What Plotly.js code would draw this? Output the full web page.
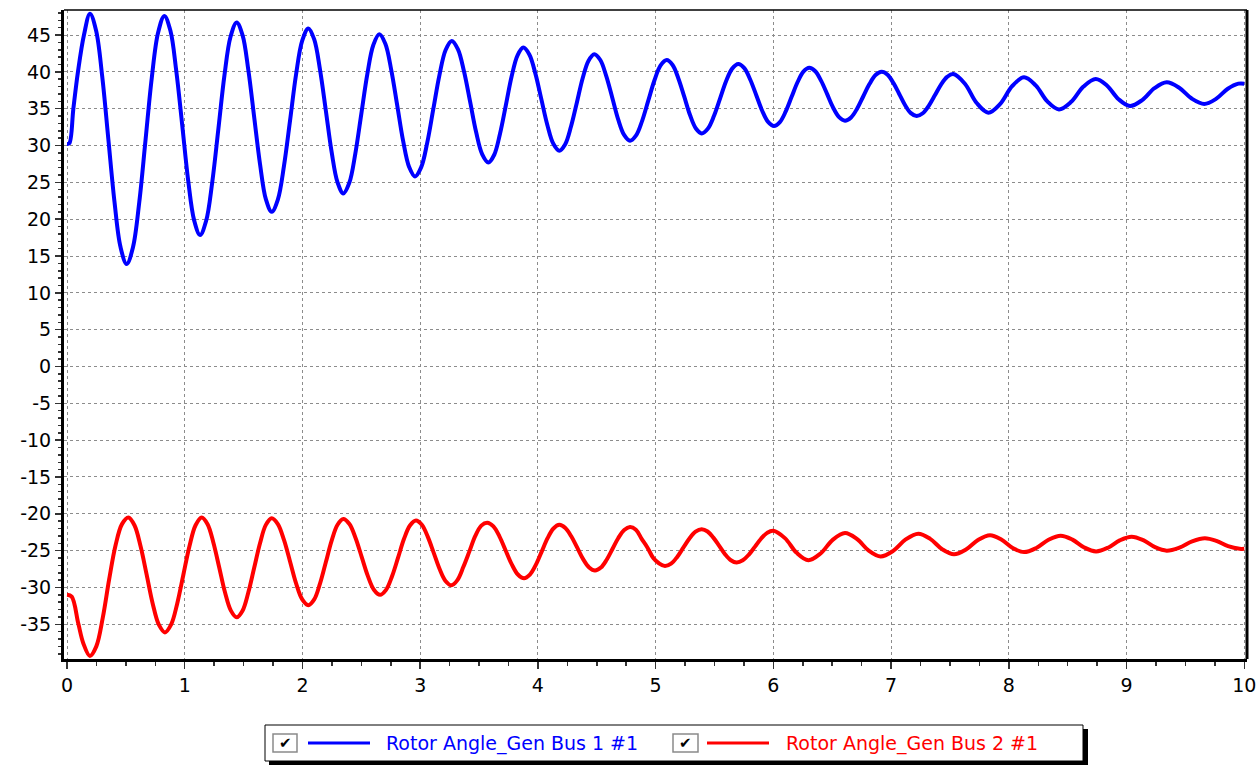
<!DOCTYPE html>
<html>
<head>
<meta charset="utf-8">
<script src="https://cdn.plot.ly/plotly-3.0.1.min.js"></script>
<style>
html,body{margin:0;padding:0;background:#fff;}
#chart{width:1258px;height:766px;}
</style>
</head>
<body>
<div id="chart"></div>
<script>
// ---- data (swing extrema and points along each flank) ----
const seriesNames = ["Rotor Angle_Gen Bus 1 #1", "Rotor Angle_Gen Bus 2 #1"];
const seriesColors = ["#0000ff", "#ff0000"];

const gen1Time = [0, 0.02, 0.054, 0.093, 0.144, 0.195,
  0.247, 0.299, 0.351, 0.403, 0.455, 0.507,
  0.560, 0.614, 0.667, 0.720, 0.774, 0.827,
  0.878, 0.928, 0.979, 1.029, 1.080, 1.13,
  1.182, 1.234, 1.286, 1.337, 1.389, 1.441,
  1.491, 1.540, 1.590, 1.640, 1.689, 1.739,
  1.791, 1.843, 1.895, 1.946, 1.998, 2.05,
  2.100, 2.149, 2.199, 2.248, 2.298, 2.347,
  2.398, 2.449, 2.500, 2.551, 2.602, 2.653,
  2.704, 2.754, 2.805, 2.855, 2.906, 2.956,
  3.008, 3.060, 3.112, 3.164, 3.216, 3.268,
  3.320, 3.372, 3.424, 3.475, 3.527, 3.579,
  3.629, 3.678, 3.728, 3.777, 3.827, 3.876,
  3.927, 3.978, 4.029, 4.080, 4.131, 4.182,
  4.232, 4.281, 4.331, 4.380, 4.430, 4.479,
  4.530, 4.580, 4.631, 4.681, 4.732, 4.782,
  4.834, 4.886, 4.938, 4.990, 5.042, 5.094,
  5.144, 5.193, 5.243, 5.292, 5.342, 5.391,
  5.443, 5.495, 5.547, 5.598, 5.650, 5.702,
  5.753, 5.803, 5.854, 5.904, 5.955, 6.005,
  6.055, 6.105, 6.155, 6.205, 6.255, 6.305,
  6.356, 6.406, 6.457, 6.507, 6.558, 6.608,
  6.660, 6.712, 6.764, 6.816, 6.868, 6.92,
  6.970, 7.019, 7.069, 7.118, 7.168, 7.217,
  7.269, 7.321, 7.373, 7.424, 7.476, 7.528,
  7.627, 7.727, 7.826,   7.927, 8.028, 8.129,   8.228, 8.327, 8.426,   8.530, 8.634, 8.738,
  8.835, 8.932, 9.029,   9.133, 9.237, 9.341,   9.447, 9.553, 9.66,
  9.76, 9.86, 9.95, 10.0];
const gen1Angle = [30.2, 30.3, 35, 40, 45, 47.9,
  45.62, 39.4, 30.9, 22.4, 16.18, 13.9,
  16.16, 22.33, 30.75, 39.18, 45.34, 47.6,
  45.61, 40.16, 32.73, 25.29, 19.84, 17.85,
  19.78, 25.06, 32.28, 39.49, 44.77, 46.7,
  44.98, 40.28, 33.85, 27.43, 22.72, 21.0,
  22.67, 27.23, 33.45, 39.68, 44.23, 45.9,
  44.4, 40.3, 34.7, 29.1, 25.0, 23.5,
  24.95, 28.9, 34.3, 39.7, 43.65, 45.1,
  43.81, 40.28, 35.45, 30.63, 27.09, 25.8,
  27.03, 30.4, 35.0, 39.6, 42.97, 44.2,
  43.09, 40.08, 35.95, 31.83, 28.81, 27.7,
  28.75, 31.6, 35.5, 39.4, 42.25, 43.3,
  42.36, 39.8, 36.3, 32.8, 30.24, 29.3,
  30.18, 32.58, 35.85, 39.13, 41.52, 42.4,
  41.61, 39.46, 36.53, 33.59, 31.44, 30.65,
  31.38, 33.39, 36.13, 38.86, 40.87, 41.6,
  40.93, 39.11, 36.63, 34.14, 32.32, 31.65,
  32.28, 34.0, 36.36, 38.72, 40.44, 41.07,
  40.51, 38.97, 36.86, 34.76, 33.21, 32.65,
  33.18, 34.63, 36.61, 38.59, 40.04, 40.57,
  40.09, 38.77, 36.97, 35.17, 33.85, 33.37,
  33.81, 35.03, 36.69, 38.34, 39.56, 40.0,
  39.6, 38.5, 37.0, 35.5, 34.4, 34.0,
  34.38, 35.43, 36.85, 38.28, 39.32, 39.7,
  38.39, 35.77, 34.46,   35.66, 38.06, 39.26,   38.17, 35.99, 34.9,    35.93, 38.0, 39.03,
  38.12, 36.29, 35.37,   36.17, 37.78, 38.58,   37.85, 36.38, 35.64,
  36.33, 37.71, 38.4, 38.4];

const gen2Time = [0, 0.04, 0.096, 0.139, 0.195,
  0.249, 0.304, 0.358, 0.412, 0.467, 0.521,
  0.573, 0.625, 0.677, 0.728, 0.780, 0.832,
  0.884, 0.936, 0.988, 1.040, 1.092, 1.144,
  1.194, 1.243, 1.293, 1.342, 1.392, 1.441,
  1.491, 1.540, 1.590, 1.640, 1.689, 1.739,
  1.791, 1.843, 1.895, 1.946, 1.998, 2.05,
  2.100, 2.149, 2.199, 2.248, 2.298, 2.347,
  2.399, 2.451, 2.503, 2.555, 2.607, 2.659,
  2.710, 2.761, 2.812, 2.862, 2.913, 2.964,
  3.014, 3.064, 3.115, 3.165, 3.215, 3.265,
  3.316, 3.367, 3.418, 3.468, 3.519, 3.57,
  3.622, 3.674, 3.726, 3.778, 3.830, 3.882,
  3.932, 3.982, 4.032, 4.082, 4.132, 4.182,
  4.233, 4.283, 4.334, 4.384, 4.435, 4.485,
  4.535, 4.584, 4.634, 4.683, 4.733, 4.782,
  4.832, 4.881, 4.931, 4.980, 5.030, 5.079,
  5.131, 5.183, 5.235, 5.287, 5.339, 5.391,
  5.441, 5.490, 5.540, 5.589, 5.639, 5.688,
  5.740, 5.792, 5.844, 5.895, 5.947, 5.999,
  6.098, 6.198, 6.297,   6.401, 6.504, 6.608,   6.709, 6.810, 6.911,   7.018, 7.124, 7.231,
  7.332, 7.433, 7.534,   7.636, 7.738, 7.84,    7.936, 8.033, 8.129,   8.233, 8.337, 8.44,
  8.54, 8.641, 8.741,    8.842, 8.942, 9.043,   9.142, 9.242, 9.341,   9.449, 9.557, 9.665,
  9.763, 9.862, 9.96, 10.0];
const gen2Angle = [-31.0, -31.25, -34.9, -37.6, -39.3,
  -38.0, -34.1, -28.9, -24.3, -21.4, -20.5,
  -21.55, -24.4, -28.3, -32.2, -35.05, -36.1,
  -35.05, -32.2, -28.3, -24.4, -21.55, -20.5,
  -21.41, -23.89, -27.28, -30.66, -33.14, -34.05,
  -33.15, -30.69, -27.33, -23.96, -21.5, -20.6,
  -21.39, -23.55, -26.5, -29.45, -31.61, -32.4,
  -31.62, -29.48, -26.55, -23.63, -21.48, -20.7,
  -21.39, -23.28, -25.85, -28.43, -30.31, -31.0,
  -30.32, -28.48, -25.95, -23.43, -21.58, -20.9,
  -21.49, -23.1, -25.3, -27.5, -29.11, -29.7,
  -29.0, -27.2, -25.1, -23.0, -21.6, -21.2,
  -21.71, -23.09, -24.98, -26.86, -28.24, -28.75,
  -28.26, -26.94, -25.13, -23.31, -21.99, -21.5,
  -21.92, -23.05, -24.6, -26.15, -27.28, -27.7,
  -27.3, -26.23, -24.75, -23.28, -22.2, -21.8,
  -22.16, -23.4, -24.6, -26.0, -26.74, -27.1,
  -26.77, -25.85, -24.6, -23.35, -22.43, -22.1,
  -22.4, -23.23, -24.35, -25.48, -26.3, -26.6,
  -26.31, -25.53, -24.45, -23.38, -22.59, -22.3,
  -23.3, -25.3, -26.3,   -25.38, -23.53, -22.6, -23.4, -25.0, -25.8,    -25.03, -23.48, -22.7,
  -23.4, -24.8, -25.5,   -24.85, -23.55, -22.9, -23.48, -24.63, -25.2,  -24.64, -23.53, -22.97,
  -23.5, -24.57, -25.1,  -24.6, -23.6, -23.1,   -23.58, -24.53, -25.0,  -24.58, -23.73, -23.3,
  -23.66, -24.39, -24.75, -24.75];

const xTickValues = [0, 1, 2, 3, 4, 5, 6, 7, 8, 9, 10];
const yTickValues = [-35, -30, -25, -20, -15, -10, -5, 0, 5, 10, 15, 20, 25, 30, 35, 40, 45];

// ---- layout geometry (pixels) ----
const W = 1258, H = 766;
const M = {l: 64, r: 11, t: 10, b: 107};
const plotW = W - M.l - M.r, plotH = H - M.t - M.b;
const PX = x => (x - M.l) / plotW;
const PY = y => (H - M.b - y) / plotH;

const FONT = "DejaVu Sans, Liberation Sans, Arial, sans-serif";

const traces = [
  {x: gen1Time, y: gen1Angle, name: seriesNames[0], type: "scatter", mode: "lines",
   line: {color: seriesColors[0], width: 4, shape: "spline", smoothing: 1}, showlegend: false, hoverinfo: "x+y"},
  {x: gen2Time, y: gen2Angle, name: seriesNames[1], type: "scatter", mode: "lines",
   line: {color: seriesColors[1], width: 4, shape: "spline", smoothing: 1}, showlegend: false, hoverinfo: "x+y"}
];

// custom legend (box with shadow, check boxes, line samples, coloured names)
const legendItems = [
  {box: [273, 297], line: [308, 370], text: 384},
  {box: [673, 698], line: [707, 769], text: 784}
];
const legY = 743;
const shapes = [
  {type: "line", xref: "paper", yref: "paper", x0: 0, x1: 1, y0: 1, y1: 1, line: {color: "#000", width: 1.5}},
  {type: "line", xref: "paper", yref: "paper", x0: 1, x1: 1, y0: 0, y1: 1, line: {color: "#000", width: 3}},
  {type: "rect", xref: "paper", yref: "paper", x0: PX(269), x1: PX(1088), y0: PY(765), y1: PY(729),
   fillcolor: "#000", line: {width: 0}},
  {type: "rect", xref: "paper", yref: "paper", x0: PX(265), x1: PX(1083), y0: PY(761), y1: PY(725),
   fillcolor: "#fff", line: {color: "#000", width: 1}}
];
const annotations = [];
legendItems.forEach((it, i) => {
  shapes.push({type: "rect", xref: "paper", yref: "paper", x0: PX(it.box[0]), x1: PX(it.box[1]),
    y0: PY(legY + 9), y1: PY(legY - 9), fillcolor: "#fff", line: {color: "#8a8a8a", width: 1.5}});
  shapes.push({type: "line", xref: "paper", yref: "paper", x0: PX(it.line[0]), x1: PX(it.line[1]),
    y0: PY(legY), y1: PY(legY), line: {color: seriesColors[i], width: 3}});
  annotations.push({xref: "paper", yref: "paper", x: PX((it.box[0] + it.box[1]) / 2), y: PY(legY),
    text: "✔", showarrow: false, xanchor: "center", yanchor: "middle",
    font: {family: FONT, size: 15, color: "#000"}});
  annotations.push({xref: "paper", yref: "paper", x: PX(it.text), y: PY(legY), text: seriesNames[i],
    showarrow: false, xanchor: "left", yanchor: "middle",
    font: {family: FONT, size: 19, color: seriesColors[i]}});
});

const axisCommon = {
  showgrid: true, gridcolor: "#8c8c8c", griddash: "dot", gridwidth: 1,
  zeroline: false, showline: true, linecolor: "#000", linewidth: 3,
  ticks: "outside", tickcolor: "#333", tickwidth: 1.5,
  tickfont: {family: FONT, size: 19, color: "#000"}
};

const layout = {
  width: W, height: H,
  margin: {l: M.l, r: M.r, t: M.t, b: M.b, pad: 0},
  paper_bgcolor: "#fff", plot_bgcolor: "#fff",
  showlegend: false,
  xaxis: Object.assign({}, axisCommon, {
    range: [-0.0255, 10.023], tickmode: "array", tickvals: xTickValues, ticktext: xTickValues.map(String),
    ticklen: 7,
    minor: {dtick: 0.25, tick0: 0, ticks: "outside", ticklen: 4, tickcolor: "#333", tickwidth: 1.5, showgrid: false}
  }),
  yaxis: Object.assign({}, axisCommon, {
    range: [-39.71, 48.4], tickmode: "array", tickvals: yTickValues, ticktext: yTickValues.map(String),
    ticklen: 6,
    minor: {dtick: 1, tick0: 0, ticks: "outside", ticklen: 3, tickcolor: "#333", tickwidth: 1.5, showgrid: false}
  }),
  shapes: shapes,
  annotations: annotations
};

Plotly.newPlot("chart", traces, layout, {displayModeBar: false, responsive: false, staticPlot: true});
</script>
</body>
</html>
